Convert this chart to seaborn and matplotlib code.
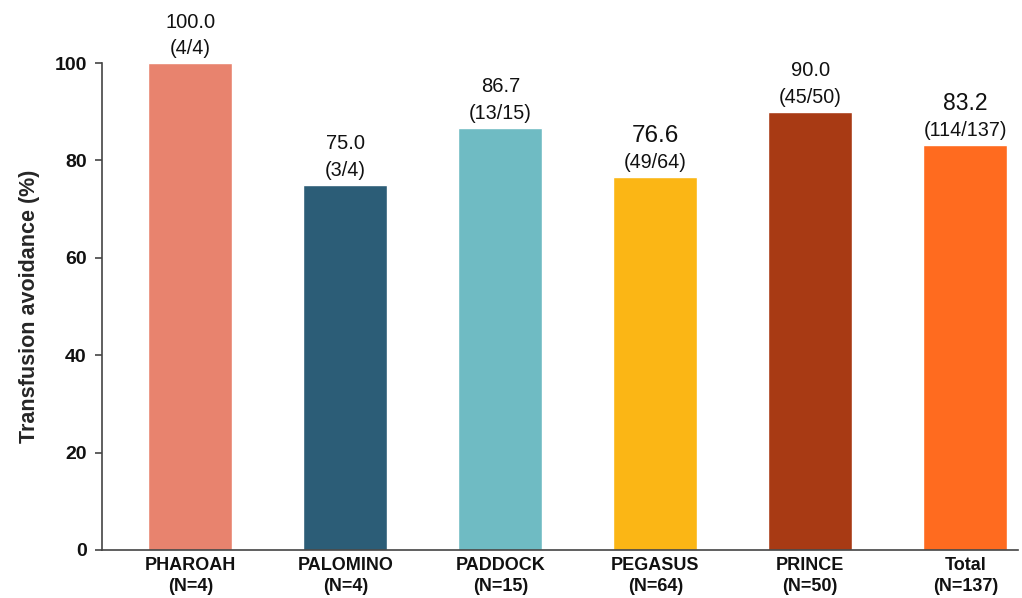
import matplotlib
matplotlib.use("Agg")
import matplotlib.pyplot as plt
import seaborn as sns
import pandas as pd

categories = ["PHAROAH", "PALOMINO", "PADDOCK", "PEGASUS", "PRINCE", "Total"]
n_patients = [4, 4, 15, 64, 50, 137]
responders = [4, 3, 13, 49, 45, 114]
avoidance_pct = [100.0, 75.0, 86.7, 76.6, 90.0, 83.2]
y_ticks = [0, 20, 40, 60, 80, 100]
y_label = "Transfusion avoidance (%)"

colors = ["#E8836E", "#2C5D77", "#6FBBC3", "#FBB615", "#A83A14", "#FF6B1F"]
pct_font_sizes = [14.5, 14.5, 14.5, 17.5, 14.5, 16.5]

sns.set_theme(style="white")
plt.rcParams["font.family"] = ["Liberation Sans", "DejaVu Sans"]

df = pd.DataFrame({
    "label": [f"{c}\n(N={n})" for c, n in zip(categories, n_patients)],
    "pct": avoidance_pct,
})

fig = plt.figure(figsize=(10.22, 5.98), dpi=100)
ax = fig.add_axes([102 / 1022, 48 / 598, (1018 - 102) / 1022, (550 - 63) / 598])

sns.barplot(data=df, x="label", y="pct", hue="label", palette=colors,
            legend=False, width=0.54, saturation=1, ax=ax, clip_on=False)

for i, (p, r, n) in enumerate(zip(avoidance_pct, responders, n_patients)):
    ax.annotate(f"({r}/{n})", (i, p), xytext=(0, 10.5), textcoords="offset points",
                ha="center", va="center", fontsize=14.2, color="#111111",
                annotation_clip=False)
    ax.annotate(f"{p:.1f}", (i, p), xytext=(0, 29.5), textcoords="offset points",
                ha="center", va="center", fontsize=pct_font_sizes[i], color="#111111",
                annotation_clip=False)

ax.set_ylim(0, 100)
ax.set_xlim(-0.57, 5.34)
ax.set_yticks(y_ticks)
ax.set_ylabel(y_label, fontsize=15.5, fontweight="bold", labelpad=10)
ax.set_xlabel("")
for lab in ax.get_yticklabels():
    lab.set_fontweight("bold")
    lab.set_fontsize(14)
for lab in ax.get_xticklabels():
    lab.set_fontweight("bold")
    lab.set_fontsize(13)
    lab.set_linespacing(1.3)

sns.despine(ax=ax, top=True, right=True)
for s in ["left", "bottom"]:
    ax.spines[s].set_color("#444444")
    ax.spines[s].set_linewidth(1.2)
ax.tick_params(axis="y", which="major", length=5, width=1.2, color="#444444",
               left=True, pad=6, labelcolor="#111111")
ax.tick_params(axis="x", length=0, pad=5, labelcolor="#111111")

fig.savefig("out.png", dpi=100)
